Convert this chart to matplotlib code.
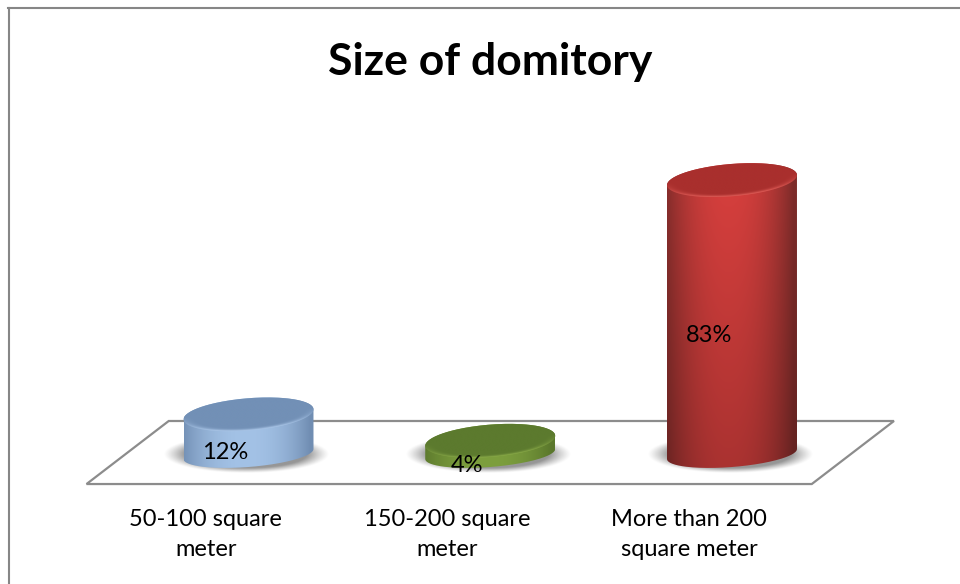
import numpy as np
import matplotlib
matplotlib.use("Agg")
import matplotlib.pyplot as plt
from matplotlib.path import Path
from matplotlib.patches import PathPatch, Polygon
from matplotlib.colors import to_rgb

# ---- data
categories = ["50-100 square\nmeter", "150-200 square\nmeter", "More than 200\nsquare meter"]
values = [12, 4, 83]
value_labels = ["12%", "4%", "83%"]
title = "Size of domitory"

# ---- style
side_light = ["#a3c2e6", "#7d9f3e", "#d9403e"]
side_dark = ["#708db2", "#5a772c", "#7f2c2a"]
top_colors = ["#7290b6", "#5c7a2e", "#a92f2d"]
rim_colors = ["#a8c4e6", "#8fb04c", "#dc5a55"]
FONT = ["Lato", "DejaVu Sans"]
W, H = 960, 584
PXX, PXY = 241.75, 3.3   # pixels per category, pixels per percent
X0, Y0 = 248.5, 454      # pixel position of first category, zero level
DEPTH = 0.17

fig = plt.figure(figsize=(W / 100, H / 100), dpi=100, facecolor="white")
ax = fig.add_axes([0, 0, 1, 1])
ax.set_xlim((0 - X0) / PXX, (W - X0) / PXX)
ax.set_ylim((Y0 - H) / PXY, Y0 / PXY)
ax.axis("off")


def ring(cx, level, a, b, k, n=200):
    t = np.linspace(0, 2 * np.pi, n)
    return np.c_[cx + a * np.cos(t) / PXX, level + (b * np.sin(t) + k * np.cos(t)) / PXY]


def shaded(rgb_img, extent, clip_pts, z):
    im = ax.imshow(rgb_img, extent=extent, origin="lower", aspect="auto", zorder=z, interpolation="bilinear")
    im.set_clip_path(PathPatch(Path(clip_pts), transform=ax.transData))
    return im


# border
fig.add_artist(plt.Line2D([8.5 / W, 8.5 / W], [0, 1 - 7.5 / H], color="#868686", lw=1.5))
fig.add_artist(plt.Line2D([8 / W, 1], [1 - 7.5 / H, 1 - 7.5 / H], color="#868686", lw=1.5))

# floor
floor_y0, floor_y1 = -9.1, 10.0
xl, xr = -0.5, 2.5
ax.add_patch(Polygon([[xl - DEPTH, floor_y0], [xr - DEPTH, floor_y0], [xr + DEPTH, floor_y1], [xl + DEPTH, floor_y1]],
                     closed=True, fc="white", ec="#8c8c8c", lw=1.6, zorder=1))

A = 65.0
K = 5.0
for i, v in enumerate(values):
    # soft shadow
    sx = np.linspace(-1.3, 1.3, 180)
    sy = np.linspace(-1.4, 1.4, 90)
    U, V = np.meshgrid(sx, sy)
    r = np.sqrt(U ** 2 + V ** 2)
    alpha = np.clip((1.28 - r) / 0.34, 0, 1) ** 1.2 * 0.66
    img = np.zeros(U.shape + (4,))
    img[..., :3] = 0.38
    img[..., 3] = alpha
    ex = [i - 2 / PXX - 1.3 * A / PXX, i - 2 / PXX + 1.3 * A / PXX,
          -1.4 * 15 / PXY, 1.4 * 15 / PXY]
    ax.imshow(img, extent=ex, origin="lower", aspect="auto", zorder=2, interpolation="bilinear")

    # side of cylinder
    top = ring(i, v, A, 16.2, K)
    t = np.linspace(0, np.pi, 100)
    lower = np.c_[i + A * np.cos(t + np.pi) / PXX, (13 * np.sin(t + np.pi) + K * np.cos(t + np.pi)) / PXY]
    upper = np.c_[i + A * np.cos(t[::-1] + np.pi) / PXX, v + (16.2 * np.sin(t[::-1]) + K * np.cos(t[::-1] + np.pi)) / PXY]
    body = np.r_[lower, upper, lower[:1]]
    gx = np.linspace(-1, 1, 200)
    gy = np.linspace(0, 1, 80)
    GX, GY = np.meshgrid(gx, gy)
    light, dark = np.array(to_rgb(side_light[i])), np.array(to_rgb(side_dark[i]))
    prof = np.clip(1 - np.abs(GX + 0.05) ** 2.2, 0, 1)[..., None]
    vert = (0.78 + 0.22 * GY)[..., None]
    vert = vert if v > 20 else np.ones_like(vert)
    img = (dark + (light - dark) * prof) * vert
    ext = [i - A / PXX, i + A / PXX, -20 / PXY, v + 20 / PXY]
    shaded(np.clip(img, 0, 1), ext, body, 3)

    # top surface with a soft bevel
    n = 220
    px = np.linspace(-70, 70, n)
    py = np.linspace(-24, 24, n // 2)
    PX, PY = np.meshgrid(px, py)
    slope = K / A
    un = PX / A
    vn = (PY - slope * PX) / 16.2
    rr = np.sqrt(un ** 2 + vn ** 2)
    bevel = np.clip((rr - 0.80) / 0.20, 0, 1)
    front = np.clip(-vn + 0.1, 0, 1)
    rc, tc = np.array(to_rgb(rim_colors[i])), np.array(to_rgb(top_colors[i]))
    mix = (bevel ** 2.2 * front)[..., None]
    img = tc + (rc - tc) * mix
    shaded(np.clip(img, 0, 1), [i - 70 / PXX, i + 70 / PXX, v - 24 / PXY, v + 24 / PXY], top, 4)

    # value label
    ax.text(i - 0.095, v / 2 - 5.6, value_labels[i], ha="center", va="center",
            fontsize=17, family=FONT, color="black", zorder=6)
    # category label
    ax.text(i - DEPTH - 0.007, -16.6, categories[i], ha="center", va="top", fontsize=17, family=FONT,
            color="black", linespacing=1.56, zorder=6)

ax.set_xlim((0 - X0) / PXX, (W - X0) / PXX)
ax.set_ylim((Y0 - H) / PXY, Y0 / PXY)

ax.text((490 - X0) / PXX, (Y0 - 62) / PXY, title, ha="center", va="center", fontsize=32,
        fontweight="bold", family=FONT, color="black")

fig.savefig("out.png", dpi=100, facecolor="white")
